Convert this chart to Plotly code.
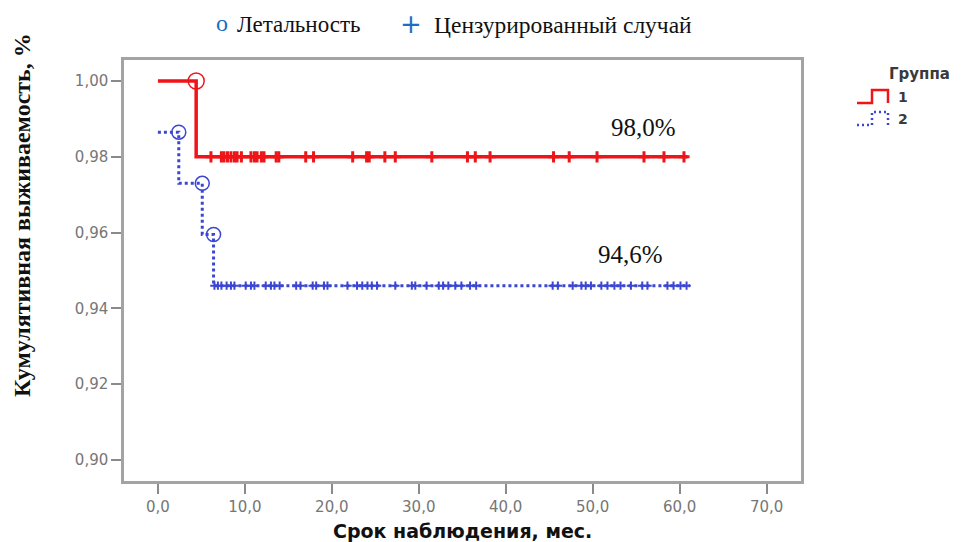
import plotly.graph_objects as go

# ---------------- data ----------------
# Group 1 (red): step points of the Kaplan-Meier curve
g1_step_t = [0.0, 4.4, 60.9]
g1_step_s = [1.000, 0.980, 0.980]
g1_death_t = [4.4]
g1_death_s = [1.000]
g1_cens_t = [6.1, 7.3, 7.6, 8.0, 8.4, 8.8, 9.1, 9.6, 10.7, 11.1, 11.4, 11.9, 12.2,
             13.6, 13.9, 17.0, 17.9, 22.4, 24.0, 24.3, 26.1, 27.3, 31.5, 35.6, 36.5,
             38.2, 45.5, 47.3, 50.5, 55.9, 58.2, 60.5]
g1_cens_s = 0.980

# Group 2 (blue)
g2_step_t = [0.0, 2.4, 5.1, 6.4, 61.2]
g2_step_s = [0.9865, 0.973, 0.9595, 0.946, 0.946]
g2_death_t = [2.4, 5.1, 6.4]
g2_death_s = [0.9865, 0.973, 0.9595]
g2_cens_t = [6.5, 6.9, 7.3, 7.9, 8.4, 8.8, 10.1, 10.7, 11.1, 12.4, 13.0, 13.4, 14.0,
             15.9, 16.4, 17.8, 18.2, 19.1, 19.5, 21.8, 22.9, 23.5, 24.1, 24.6, 25.2,
             27.3, 29.2, 29.6, 30.9, 32.3, 32.8, 33.4, 34.2, 34.9, 35.9, 36.6, 45.4,
             46.0, 47.7, 48.7, 49.2, 49.8, 51.0, 51.7, 52.5, 53.2, 54.4, 55.7, 56.3,
             58.6, 59.3, 60.1, 60.8]
g2_cens_s = 0.946

x_ticks = [0, 10, 20, 30, 40, 50, 60, 70]
x_tick_text = ["0,0", "10,0", "20,0", "30,0", "40,0", "50,0", "60,0", "70,0"]
y_ticks = [0.90, 0.92, 0.94, 0.96, 0.98, 1.00]
y_tick_text = ["0,90", "0,92", "0,94", "0,96", "0,98", "1,00"]

final_labels = ["98,0%", "94,6%"]
final_label_t = [55.8, 54.4]
final_label_s = [0.9878, 0.9543]

RED = "#ee1418"
BLUE = "#3b46d2"
LEG_BLUE = "#1a6fc4"
SERIF = "Liberation Serif, Times New Roman, serif"
WIDE = "DejaVu Sans, Verdana, sans-serif"

# ---------------- layout geometry ----------------
W, H = 961, 542
L, R, T, B = 124, 160, 60, 61
PW, PH = W - L - R, H - T - B


def px(x):
    return (x - L) / PW


def py(y):
    return 1 - (y - T) / PH


fig = go.Figure()

# Group 2 curve
fig.add_trace(go.Scatter(x=g2_step_t, y=g2_step_s, mode="lines", line_shape="hv",
                         line=dict(color=BLUE, width=3, dash="3px,3px"),
                         hoverinfo="skip"))
fig.add_trace(go.Scatter(x=g2_cens_t, y=[g2_cens_s] * len(g2_cens_t), mode="markers",
                         marker=dict(symbol="cross-thin", size=6,
                                     line=dict(color=BLUE, width=2))))
fig.add_trace(go.Scatter(x=g2_death_t, y=g2_death_s, mode="markers",
                         marker=dict(symbol="circle-open", size=14,
                                     line=dict(color=BLUE, width=1.5), color=BLUE)))

# Group 1 curve
fig.add_trace(go.Scatter(x=g1_step_t, y=g1_step_s, mode="lines", line_shape="hv",
                         line=dict(color=RED, width=3.5), hoverinfo="skip"))
fig.add_trace(go.Scatter(x=g1_cens_t, y=[g1_cens_s] * len(g1_cens_t), mode="markers",
                         marker=dict(symbol="cross-thin", size=8,
                                     line=dict(color=RED, width=3))))
fig.add_trace(go.Scatter(x=g1_death_t, y=g1_death_s, mode="markers",
                         marker=dict(symbol="circle-open", size=16,
                                     line=dict(color=RED, width=1.5), color=RED)))

annotations = []
for txt, t, s in zip(final_labels, final_label_t, final_label_s):
    annotations.append(dict(x=t, y=s, xref="x", yref="y", text=txt, showarrow=False,
                            font=dict(family=SERIF, size=25, color="#111")))

# top legend
annotations += [
    dict(x=px(222), y=py(23), xref="paper", yref="paper", text="о", showarrow=False,
         font=dict(family=SERIF, size=24, color=LEG_BLUE), xanchor="center", yanchor="middle"),
    dict(x=px(235), y=py(25), xref="paper", yref="paper", text="Летальность", showarrow=False,
         font=dict(family=SERIF, size=23, color="#111"), xanchor="left", yanchor="middle"),
    dict(x=px(411), y=py(24), xref="paper", yref="paper", text="+", showarrow=False,
         font=dict(family=WIDE, size=26, color=LEG_BLUE), xanchor="center", yanchor="middle"),
    dict(x=px(432), y=py(25), xref="paper", yref="paper", text="Цензурированный случай",
         showarrow=False, font=dict(family=SERIF, size=23.5, color="#111"),
         xanchor="left", yanchor="middle"),
]

# right legend
annotations += [
    dict(x=px(887), y=py(74), xref="paper", yref="paper", text="<b>Группа</b>", showarrow=False,
         font=dict(family=WIDE, size=15, color="#3a3a3a"), xanchor="left", yanchor="middle"),
    dict(x=px(896), y=py(97), xref="paper", yref="paper", text="<b>1</b>", showarrow=False,
         font=dict(family=WIDE, size=14, color="#3a3a3a"), xanchor="left", yanchor="middle"),
    dict(x=px(896), y=py(119), xref="paper", yref="paper", text="<b>2</b>", showarrow=False,
         font=dict(family=WIDE, size=14, color="#3a3a3a"), xanchor="left", yanchor="middle"),
]

# axis titles
annotations += [
    dict(x=px(22), y=py(215), xref="paper", yref="paper",
         text="<b>Кумулятивная выживаемость, %</b>", textangle=-90, showarrow=False,
         font=dict(family=SERIF, size=24, color="#111"), xanchor="center", yanchor="middle"),
    dict(x=px(462), y=py(531), xref="paper", yref="paper",
         text="<b>Срок наблюдения, мес.</b>", showarrow=False,
         font=dict(family=WIDE, size=19, color="#111"), xanchor="center", yanchor="middle"),
]


def step_path(x0, x1, x2, ylo, yhi):
    return (f"M {px(x0)},{py(ylo)} L {px(x1)},{py(ylo)} L {px(x1)},{py(yhi)} "
            f"L {px(x2)},{py(yhi)} L {px(x2)},{py(ylo)}")


shapes = [
    dict(type="path", xref="paper", yref="paper", path=step_path(857, 872, 888, 103, 90),
         line=dict(color=RED, width=2.5)),
    dict(type="path", xref="paper", yref="paper", path=step_path(857, 872, 888, 125, 112),
         line=dict(color=BLUE, width=2.5, dash="2px,3px")),
]

x0_data = -3.9
x1_data = (801 - 158.3) / 8.69
y_per_px = 0.10 / (460 - 81)
y_top = 1.0 + (81 - 60) * y_per_px
y_bot = 0.90 - (481 - 460) * y_per_px

axis_common = dict(showline=True, linecolor="#a3a3a3", linewidth=2.5, mirror=True,
                   ticks="outside", tickcolor="#8a8a8a", tickwidth=2, ticklen=10,
                   showgrid=False, zeroline=False,
                   tickfont=dict(family=WIDE, size=15, color="#767676"))

fig.update_layout(
    width=W, height=H,
    margin=dict(l=L, r=R, t=T, b=B, pad=0),
    paper_bgcolor="white", plot_bgcolor="white",
    showlegend=False,
    xaxis=dict(range=[x0_data, x1_data], tickvals=x_ticks, ticktext=x_tick_text, **axis_common),
    yaxis=dict(range=[y_bot, y_top], tickvals=y_ticks, ticktext=y_tick_text, **axis_common),
    annotations=annotations,
    shapes=shapes,
)

fig.write_html("out.html")
